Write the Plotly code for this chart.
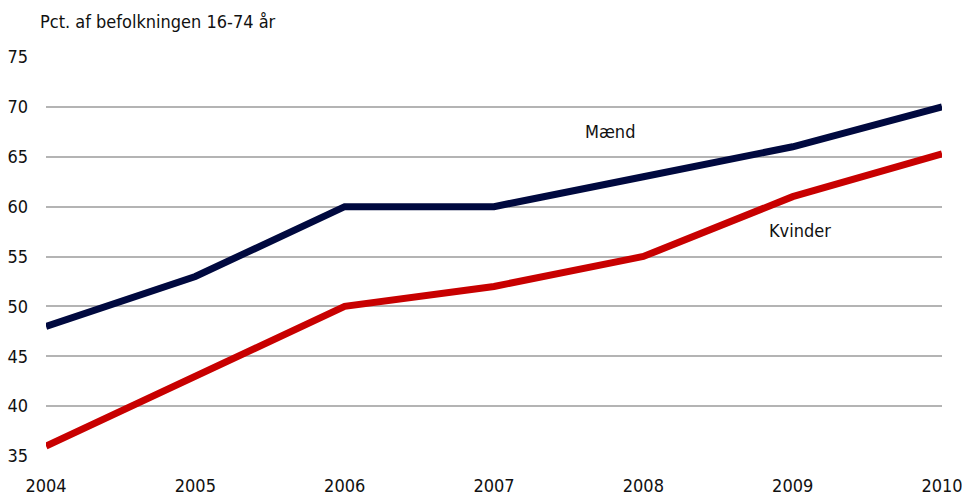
import plotly.graph_objects as go

years = [2004, 2005, 2006, 2007, 2008, 2009, 2010]
maend = [48, 53, 60, 60, 63, 66, 70]
kvinder = [36, 43, 50, 52, 55, 61, 65.3]
y_ticks = [35, 40, 45, 50, 55, 60, 65, 70, 75]

FONT = "DejaVu Sans Condensed, Liberation Sans Narrow, Roboto, sans-serif"

fig = go.Figure()
fig.add_trace(go.Scatter(x=years, y=maend, mode="lines", name="Mænd",
                         line=dict(color="#00093f", width=7)))
fig.add_trace(go.Scatter(x=years, y=kvinder, mode="lines", name="Kvinder",
                         line=dict(color="#c80000", width=7)))

fig.add_annotation(x=2007.78, y=67.5, text="Mænd", showarrow=False,
                   font=dict(size=18, color="#111", family=FONT))
fig.add_annotation(x=2009.05, y=57.6, text="Kvinder", showarrow=False,
                   font=dict(size=18, color="#111", family=FONT))

fig.update_layout(
    width=962, height=497,
    margin=dict(l=46, r=20, t=57, b=41),
    plot_bgcolor="white", paper_bgcolor="white",
    showlegend=False,
    font=dict(family=FONT, size=18, color="#111"),
    title=dict(text="Pct. af befolkningen 16-74 år", x=0.0416, xanchor="left",
               y=0.9557, yanchor="middle", font=dict(size=18, family=FONT)),
)
fig.update_xaxes(range=[2004, 2010], tickvals=years, showgrid=False,
                 zeroline=False, showline=False, ticklabelstandoff=17,
                 automargin=False, ticklabeloverflow="allow")
fig.update_yaxes(range=[35, 75], tickvals=y_ticks, showgrid=True,
                 gridcolor="#b4b4b4", gridwidth=2, zeroline=False,
                 showline=False, ticklabelstandoff=17, automargin=False)

# drop the default 8px body margin so the figure fills the window
fig.write_html("out.html", config={"displayModeBar": False},
               post_script="document.body.style.margin='0';")
